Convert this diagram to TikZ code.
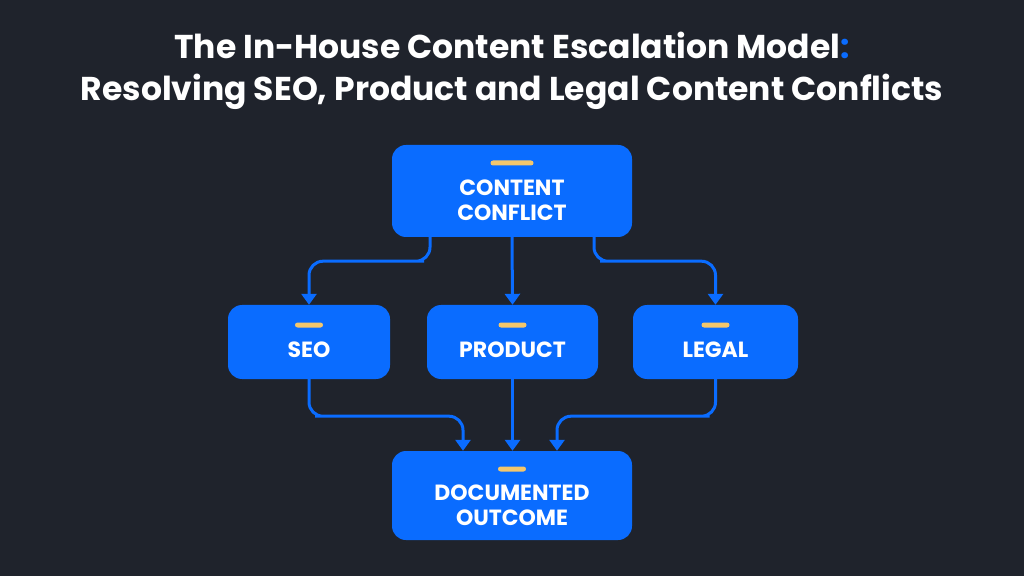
\documentclass[tikz,border=0pt]{standalone}
\usepackage{fontspec}
\setmainfont{Poppins}
\usetikzlibrary{positioning, arrows.meta}
\definecolor{bgdark}{HTML}{1F232C}
\definecolor{boxblue}{HTML}{0A6CFF}
\definecolor{baryellow}{HTML}{F4C76C}
\begin{document}
\begin{tikzpicture}[x=1pt, y=1pt]
        % ================= styles =================
        \tikzset{
            % blue boxes
            stage/.style={draw=none, fill=boxblue, rounded corners=14pt, inner sep=0pt},
            % box labels
            caption/.style={align=center, text=white, font=\fontsize{22}{25}\selectfont\bfseries, inner sep=0pt},
            % small yellow bar
            tag/.style={fill=baryellow, rounded corners=2.5pt, minimum height=5pt, inner sep=0pt},
            % connectors
            flow/.style={boxblue, line width=3pt, rounded corners=14pt, -{Triangle[length=11pt, width=15pt]}}
        }

        % ================= 1. background and title =================
        \fill[bgdark] (0,0) rectangle (1024,576);
        \useasboundingbox (0,0) rectangle (1024,576);
        \node[text=white, font=\fontsize{33}{42}\selectfont\bfseries, align=center] (title) at (512,505)
            {The In-House Content Escalation Model\textcolor{boxblue}{:}\\Resolving SEO, Product and Legal Content Conflicts};

        % ================= 2. boxes =================
        \node[stage, minimum width=240pt, minimum height=92pt] (conflict) at (512,385) {};
        \node[stage, minimum width=162pt, minimum height=74pt] (seo) at (309,234) {};
        \node[stage, minimum width=171pt, minimum height=74pt] (product) at (512.5,234) {};
        \node[stage, minimum width=165pt, minimum height=74pt] (legal) at (715.5,234) {};
        \node[stage, minimum width=240pt, minimum height=89pt] (outcome) at (512,80.5) {};

        % labels
        \node[caption, below=-11pt of conflict.center] (conflictText) {CONTENT\\CONFLICT};
        \node[caption] (seoText) at ([yshift=-8pt]seo.center) {SEO};
        \node[caption] (productText) at ([yshift=-8pt]product.center) {PRODUCT};
        \node[caption] (legalText) at ([yshift=-8pt]legal.center) {LEGAL};
        \node[caption, below=-11pt of outcome.center] (outcomeText) {DOCUMENTED\\OUTCOME};

        % yellow bars
        \node[tag, minimum width=43pt] at (512,413) {};
        \node[tag, minimum width=28pt] at (309,251) {};
        \node[tag, minimum width=28pt] at (512.5,251) {};
        \node[tag, minimum width=28pt] at (715.5,251) {};
        \node[tag, minimum width=28pt] at (512,107) {};

        % ================= 3. connectors =================
        \draw[flow] ([xshift=-82pt]conflict.south) |- ++(-20pt,-24pt) -| (seo.north);
        \draw[flow] (conflict.south) -- (product.north);
        \draw[flow] ([xshift=82pt]conflict.south) |- ++(20pt,-24pt) -| (legal.north);

        \draw[flow] (seo.south) |- ++(20pt,-37pt) -| ([xshift=-49pt]outcome.north);
        \draw[flow] (product.south) -- ([xshift=0.5pt]outcome.north);
        \draw[flow] (legal.south) |- ++(-20pt,-37pt) -| ([xshift=45pt]outcome.north);
    \end{tikzpicture}
\end{document}
